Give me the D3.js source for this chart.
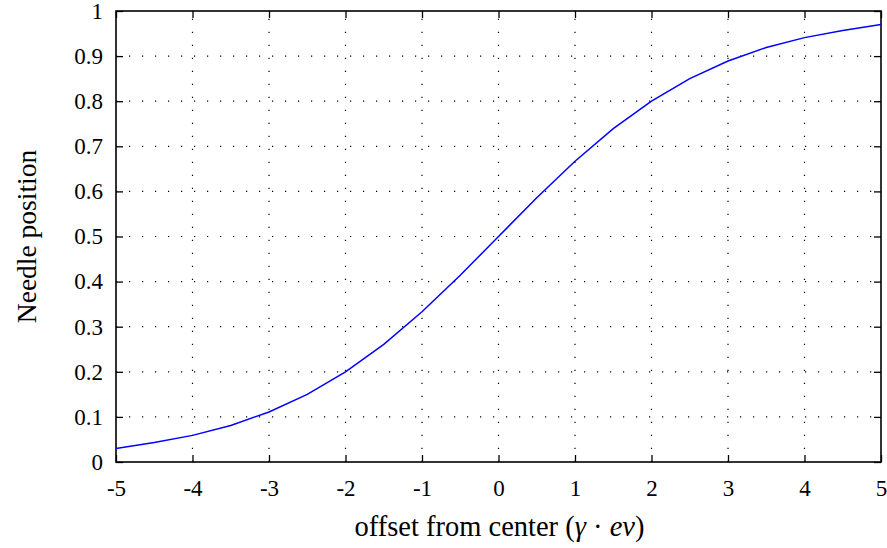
<!DOCTYPE html>
<meta charset="utf-8">
<style type="text/css">
body { margin: 0; background: #fff; }
text { font-family: "Liberation Serif", "DejaVu Serif", serif; fill: #000; }
.grid line { stroke: #000; stroke-width: 1.2; stroke-dasharray: 1.2,11.8; }
.line { fill: none; stroke: #0000ff; stroke-width: 1.5; }
.frame { fill: none; stroke: #000; stroke-width: 1.6; }
</style>
<body>
<div id="chart"></div>
</body>
<script src="https://d3js.org/d3.v7.min.js"></script>
<script>

// data
var offsets = [-5, -4.5, -4, -3.5, -3, -2.5, -2, -1.5, -1, -0.5, 0, 0.5, 1, 1.5, 2, 2.5, 3, 3.5, 4, 4.5, 5];
var needle = [0.030, 0.043, 0.059, 0.081, 0.111, 0.150, 0.200, 0.261, 0.333, 0.414, 0.500,
              0.586, 0.667, 0.739, 0.800, 0.850, 0.889, 0.919, 0.941, 0.957, 0.970];
var xTicks = [-5, -4, -3, -2, -1, 0, 1, 2, 3, 4, 5];
var yTicks = [0, 0.1, 0.2, 0.3, 0.4, 0.5, 0.6, 0.7, 0.8, 0.9, 1];

var margin = {top: 11, right: 6, bottom: 86, left: 116}
  , width = 887 - margin.left - margin.right
  , height = 548 - margin.top - margin.bottom;

var xScale = d3.scaleLinear().domain([-5, 5]).range([0, width]);
var yScale = d3.scaleLinear().domain([0, 1]).range([height, 0]);

var svg = d3.select("#chart").append("svg")
    .attr("width", 887)
    .attr("height", 548)
  .append("g")
    .attr("transform", "translate(" + margin.left + "," + margin.top + ")");

// dotted grid
svg.append("g").attr("class", "grid")
    .selectAll("line").data(xTicks.slice(1, -1)).enter().append("line")
    .attr("x1", function(d) { return xScale(d); })
    .attr("x2", function(d) { return xScale(d); })
    .attr("y1", height).attr("y2", 0);

svg.append("g").attr("class", "grid")
    .selectAll("line").data(yTicks.slice(1, -1)).enter().append("line")
    .attr("y1", function(d) { return yScale(d); })
    .attr("y2", function(d) { return yScale(d); })
    .attr("x1", 0).attr("x2", width);

var fmt = function(d) { return String(d); };

// axes, ticks pointing inward
var xAxis = svg.append("g")
    .attr("transform", "translate(0," + height + ")")
    .call(d3.axisBottom(xScale).tickValues(xTicks).tickFormat(fmt).tickSizeInner(-7).tickSizeOuter(0).tickPadding(18));
var yAxis = svg.append("g")
    .call(d3.axisLeft(yScale).tickValues(yTicks).tickFormat(fmt).tickSizeInner(-7).tickSizeOuter(0).tickPadding(13));
svg.append("g")
    .call(d3.axisTop(xScale).tickValues(xTicks).tickFormat("").tickSizeInner(-7).tickSizeOuter(0));
svg.append("g")
    .attr("transform", "translate(" + width + ",0)")
    .call(d3.axisRight(yScale).tickValues(yTicks).tickFormat("").tickSizeInner(-7).tickSizeOuter(0));

svg.selectAll(".domain").remove();
svg.selectAll(".tick line").attr("stroke", "#000").attr("stroke-width", 1.3);
svg.selectAll("g").attr("font-family", null).attr("font-size", null);
svg.selectAll(".tick text")
    .style("font-family", "'Liberation Serif', serif")
    .style("font-size", "23px");
xAxis.selectAll(".tick text").attr("dy", "0.71em");

svg.append("rect").attr("class", "frame")
    .attr("x", 0).attr("y", 0).attr("width", width).attr("height", height);

// curve
var line = d3.line()
    .x(function(d, i) { return xScale(offsets[i]); })
    .y(function(d) { return yScale(d); });

svg.append("path")
    .datum(needle)
    .attr("class", "line")
    .attr("d", line);

// axis titles
var xt = svg.append("text")
    .attr("x", width / 2 + 1)
    .attr("y", height + 74)
    .attr("text-anchor", "middle")
    .style("font-size", "28.5px");
xt.append("tspan").text("offset from center (");
xt.append("tspan").style("font-style", "italic").text("γ");
xt.append("tspan").text(" · ");
xt.append("tspan").style("font-style", "italic").text("ev");
xt.append("tspan").text(")");

svg.append("text")
    .attr("transform", "translate(" + (-80) + "," + (height / 2) + ") rotate(-90)")
    .attr("text-anchor", "middle")
    .style("font-size", "27.5px")
    .text("Needle position");
</script>
